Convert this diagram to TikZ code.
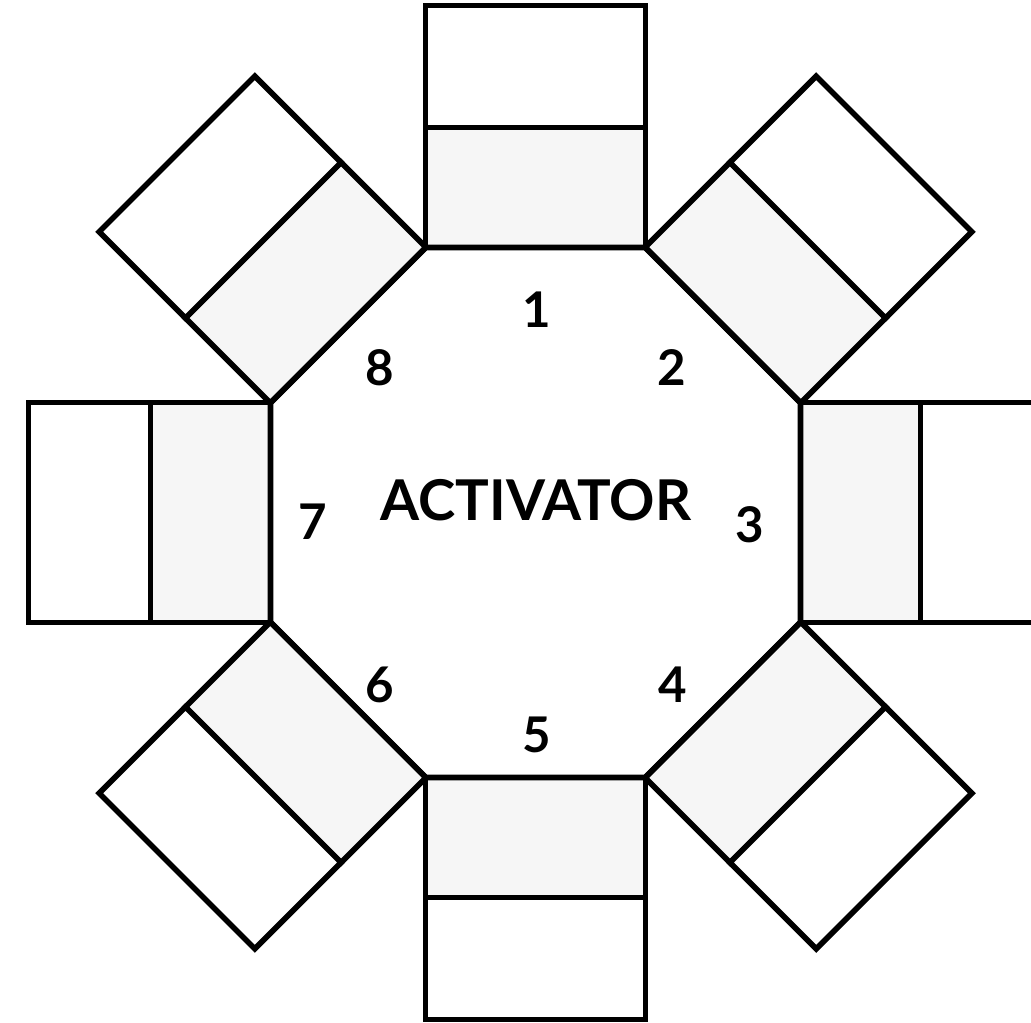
\documentclass[tikz,border=0pt]{standalone}
\usepackage{fontspec}
\setmainfont{Lato}
\usepackage{tikz}
\tikzset{
  seat/.style={line width=1.6pt,fill=gray!7},
  stand/.style={line width=1.6pt,fill=white},
  numlabel/.style={font=\fontsize{14}{16}\selectfont\bfseries,inner sep=0pt}
}

\begin{document}
\begin{tikzpicture}[line width=1.6pt]
\clip (-5.355,-5.095) rectangle (4.955,5.125);
% the eight blocks round the octagon, block 1 on top, then clockwise
\foreach \n in {1,...,8}{
  \begin{scope}[rotate={-45*(\n-1)}]
    \draw[seat] (-1.1,2.65) rectangle (1.1,3.85);
    \draw[stand] (-1.1,3.85) rectangle (1.1,5.07);
  \end{scope}
}
\foreach \k in {1,...,8}{ \coordinate (v\k) at ({112.5-45*\k}:2.868); }
\draw (v1) -- (v2) -- (v3) -- (v4) -- (v5) -- (v6) -- (v7) -- (v8) -- cycle;
\node[numlabel,font=\fontsize{16}{18}\selectfont\bfseries] (act) at (0.005,0.12) {ACTIVATOR};
\node[numlabel] (l1) at (0.015,2.03) {1};
\node[numlabel] (l2) at (1.365,1.445) {2};
\node[numlabel] (l3) at (2.145,-0.125) {3};
\node[numlabel] (l4) at (1.375,-1.725) {4};
\node[numlabel] (l5) at (0.015,-2.225) {5};
\node[numlabel] (l6) at (-1.555,-1.725) {6};
\node[numlabel] (l7) at (-2.225,-0.095) {7};
\node[numlabel] (l8) at (-1.555,1.445) {8};
\end{tikzpicture}
\end{document}
